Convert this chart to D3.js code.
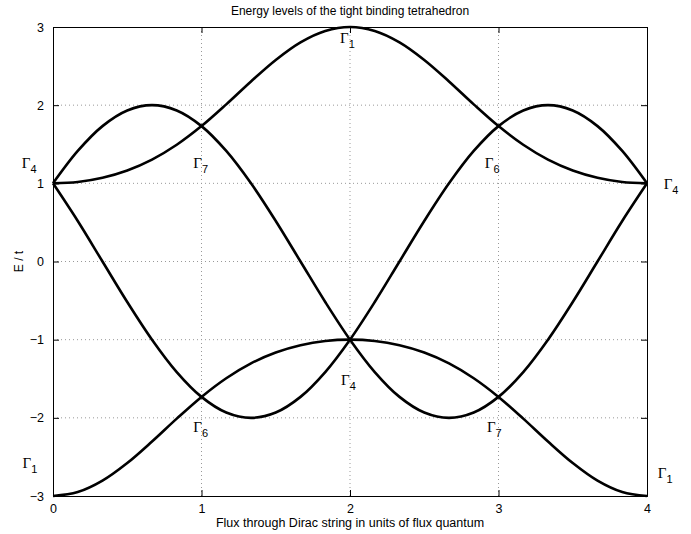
<!DOCTYPE html>
<html>
<head>
<meta charset="utf-8">
<script src="https://cdn.jsdelivr.net/npm/d3@7"></script>
<style>
body { margin: 0; background: #fff; }
text { font-family: "Liberation Sans", Arial, sans-serif; }
</style>
</head>
<body>
<div id="chart"></div>
<script>
// flux values (steps of 1/6)
var flux = [0, 0.1667, 0.3333, 0.5, 0.6667, 0.8333, 1, 1.1667, 1.3333, 1.5, 1.6667, 1.8333, 2,
            2.1667, 2.3333, 2.5, 2.6667, 2.8333, 3, 3.1667, 3.3333, 3.5, 3.6667, 3.8333, 4];

// energy levels
var bandTop = [1, 1.017, 1.071, 1.164, 1.303, 1.493, 1.732, 2.010, 2.303, 2.578, 2.803, 2.949, 3,
               2.949, 2.803, 2.578, 2.303, 2.010, 1.732, 1.493, 1.303, 1.164, 1.071, 1.017, 1];
var bandHump = [1, 1.414, 1.732, 1.932, 2, 1.932, 1.732, 1.414, 1, 0.518, 0, -0.518, -1,
                -1.414, -1.732, -1.932, -2, -1.932, -1.732, -1.414, -1, -0.518, 0, 0.518, 1];
var bandDip = [1, 0.518, 0, -0.518, -1, -1.414, -1.732, -1.932, -2, -1.932, -1.732, -1.414, -1,
               -0.518, 0, 0.518, 1, 1.414, 1.732, 1.932, 2, 1.932, 1.732, 1.414, 1];
var bandBottom = [-3, -2.949, -2.803, -2.578, -2.303, -2.010, -1.732, -1.493, -1.303, -1.164, -1.071, -1.017, -1,
                  -1.017, -1.071, -1.164, -1.303, -1.493, -1.732, -2.010, -2.303, -2.578, -2.803, -2.949, -3];
var bands = [bandTop, bandHump, bandDip, bandBottom];

var xTicks = [0, 1, 2, 3, 4];
var yTicks = [-3, -2, -1, 0, 1, 2, 3];

// symmetry labels: [x, y, subscript]
var labels = [
    [-0.21, 1.2, "4"], [0.945, 1.19, "7"], [2.908, 1.2, "6"], [4.112, 0.93, "4"],
    [1.933, 2.79, "1"], [1.94, -1.58, "4"], [0.945, -2.18, "6"], [2.922, -2.18, "7"],
    [-0.205, -2.64, "1"], [4.073, -2.77, "1"]
];

var W = 691, H = 534;
var margin = {top: 27, right: 44, bottom: 38, left: 53};
var width = W - margin.left - margin.right;
var height = H - margin.top - margin.bottom;

var svg = d3.select("#chart").append("svg").attr("width", W).attr("height", H);
var g = svg.append("g").attr("transform", "translate(" + margin.left + "," + margin.top + ")");

var x = d3.scaleLinear().domain([0, 4]).range([0, width]);
var y = d3.scaleLinear().domain([-3, 3]).range([height, 0]);

// grid
g.selectAll(".gx").data(xTicks.slice(1, -1)).enter().append("line")
    .attr("x1", function(d){ return x(d); }).attr("x2", function(d){ return x(d); })
    .attr("y1", 0).attr("y2", height)
    .attr("stroke", "#999").attr("stroke-dasharray", "1,3");
g.selectAll(".gy").data(yTicks.slice(1, -1)).enter().append("line")
    .attr("x1", 0).attr("x2", width)
    .attr("y1", function(d){ return y(d); }).attr("y2", function(d){ return y(d); })
    .attr("stroke", "#999").attr("stroke-dasharray", "1,3");

// axes with inward ticks, box style
var ax = g.append("g").attr("transform", "translate(0," + height + ")")
    .call(d3.axisBottom(x).tickValues(xTicks).tickSize(-6).tickPadding(8).tickFormat(d3.format("d")));
var axTop = g.append("g").call(d3.axisTop(x).tickValues(xTicks).tickSize(-6).tickFormat(""));
var ay = g.append("g")
    .call(d3.axisLeft(y).tickValues(yTicks).tickSize(-6).tickPadding(9).tickFormat(function(d){ return d < 0 ? "\u2212" + (-d) : d; }));
var ayRight = g.append("g").attr("transform", "translate(" + width + ",0)")
    .call(d3.axisRight(y).tickValues(yTicks).tickSize(-6).tickFormat(""));
[ax, axTop, ay, ayRight].forEach(function(a){
    a.select(".domain").attr("stroke", "#000");
    a.selectAll("text").attr("font-size", 12.5).attr("fill", "#000")
        .style("font-family", "'Liberation Sans', Arial, sans-serif");
});

// curves
var line = d3.line()
    .x(function(d, i){ return x(flux[i]); })
    .y(function(d){ return y(d); })
    .curve(d3.curveCatmullRom);
g.selectAll(".band").data(bands).enter().append("path")
    .attr("d", line)
    .attr("fill", "none").attr("stroke", "#000").attr("stroke-width", 2.6);

// Gamma labels
var lab = g.selectAll(".lab").data(labels).enter().append("text")
    .attr("x", function(d){ return x(d[0]); })
    .attr("y", function(d){ return y(d[1]); });
lab.append("tspan").text("\u0393")
    .style("font-family", "'Liberation Serif', 'Times New Roman', serif").attr("font-size", 15);
lab.append("tspan").text(function(d){ return d[2]; })
    .attr("dy", 5).attr("font-size", 11);

// titles
svg.append("text").attr("x", margin.left + width / 2).attr("y", 15)
    .attr("text-anchor", "middle").attr("font-size", 12).text("Energy levels of the tight binding tetrahedron");
svg.append("text").attr("x", margin.left + width / 2).attr("y", 527)
    .attr("text-anchor", "middle").attr("font-size", 12.5).text("Flux through Dirac string in units of flux quantum");
svg.append("text").attr("transform", "translate(23," + (margin.top + height / 2) + ") rotate(-90)")
    .attr("text-anchor", "middle").attr("font-size", 12).text("E / t");
</script>
</body>
</html>
